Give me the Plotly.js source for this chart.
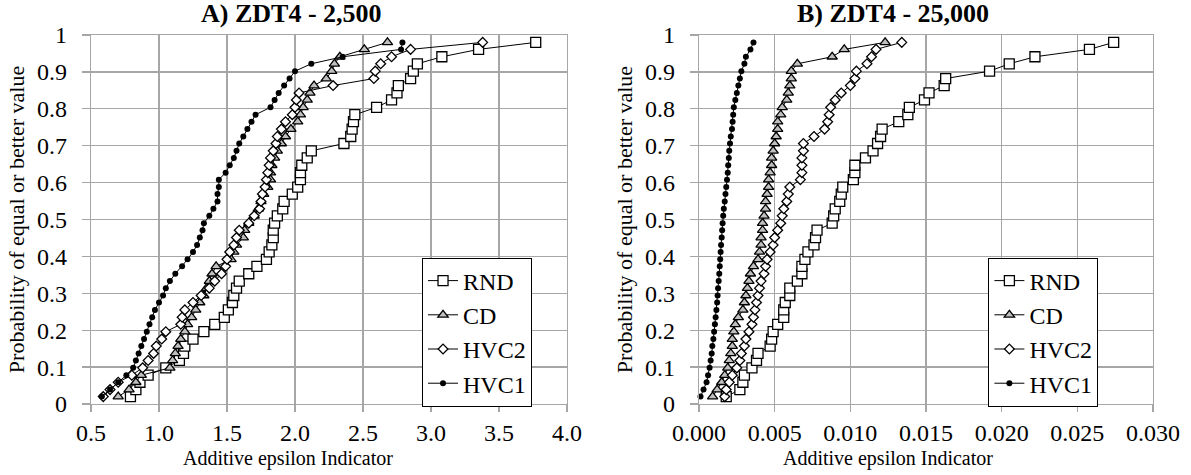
<!DOCTYPE html>
<html><head><meta charset="utf-8">
<script src="https://cdn.plot.ly/plotly-3.0.1.min.js"></script>
<style>html,body{margin:0;padding:0;background:#fff}#chart{width:1191px;height:475px}</style>
</head><body><div id="chart"></div>
<script>
// cumulative probability (i/51) for the 50 sorted runs
const probability = [0.020,0.039,0.059,0.078,0.098,0.118,0.137,0.157,0.176,0.196,
  0.216,0.235,0.255,0.275,0.294,0.314,0.333,0.353,0.373,0.392,
  0.412,0.431,0.451,0.471,0.490,0.510,0.529,0.549,0.569,0.588,
  0.608,0.627,0.647,0.667,0.686,0.706,0.725,0.745,0.765,0.784,
  0.804,0.824,0.843,0.863,0.882,0.902,0.922,0.941,0.961,0.980];

const seriesNames = ['RND','CD','HVC2','HVC1'];

// A) ZDT4 - 2,500 evaluations
const rnd_2500 = [0.79,0.83,0.86,0.92,1.05,1.15,1.18,1.19,1.25,1.33,
  1.41,1.48,1.51,1.54,1.55,1.57,1.59,1.66,1.72,1.79,
  1.81,1.83,1.84,1.84,1.85,1.87,1.91,1.92,1.98,2.02,
  2.04,2.04,2.05,2.09,2.12,2.36,2.41,2.42,2.43,2.44,
  2.60,2.71,2.75,2.76,2.85,2.87,2.90,3.08,3.35,3.77];
const cd_2500 = [0.70,0.78,0.83,0.87,1.08,1.10,1.12,1.14,1.16,1.19,
  1.21,1.24,1.27,1.30,1.33,1.35,1.37,1.39,1.42,1.53,
  1.55,1.57,1.62,1.63,1.66,1.70,1.73,1.75,1.77,1.80,
  1.82,1.82,1.83,1.85,1.87,1.90,1.93,1.97,2.02,2.04,
  2.06,2.09,2.11,2.14,2.23,2.27,2.29,2.33,2.51,2.68];
const hvc2_2500 = [0.59,0.64,0.70,0.80,0.88,0.92,0.96,0.98,1.02,1.05,
  1.16,1.17,1.19,1.25,1.31,1.37,1.41,1.46,1.49,1.50,
  1.52,1.55,1.57,1.59,1.66,1.70,1.74,1.75,1.76,1.78,
  1.79,1.80,1.81,1.82,1.84,1.86,1.87,1.90,1.93,1.98,
  2.00,2.01,2.03,2.28,2.58,2.59,2.63,2.71,2.85,3.38];
const hvc1_2500 = [0.58,0.64,0.70,0.76,0.81,0.83,0.85,0.87,0.89,0.91,
  0.93,0.95,0.97,1.00,1.03,1.05,1.08,1.12,1.17,1.21,
  1.25,1.28,1.30,1.32,1.33,1.37,1.40,1.43,1.43,1.44,
  1.44,1.49,1.52,1.55,1.57,1.59,1.62,1.65,1.68,1.71,
  1.82,1.85,1.88,1.92,1.96,2.00,2.12,2.35,2.78,2.79];

// B) ZDT4 - 25,000 evaluations
const rnd_25000 = [0.0018,0.0027,0.0029,0.0030,0.0035,0.0038,0.0039,0.0047,0.0048,0.0049,
  0.0052,0.0056,0.0056,0.0057,0.0060,0.0060,0.0065,0.0068,0.0068,0.0070,
  0.0072,0.0076,0.0077,0.0078,0.0088,0.0089,0.0090,0.0093,0.0094,0.0095,
  0.0102,0.0103,0.0103,0.0110,0.0115,0.0118,0.0120,0.0121,0.0132,0.0138,
  0.0139,0.0149,0.0152,0.0162,0.0163,0.0192,0.0205,0.0222,0.0258,0.0274];
const cd_25000 = [0.0009,0.0012,0.0015,0.0017,0.0019,0.0020,0.0021,0.0022,0.0022,0.0023,
  0.0024,0.0026,0.0029,0.0030,0.0031,0.0032,0.0033,0.0034,0.0036,0.0039,
  0.0040,0.0041,0.0041,0.0042,0.0042,0.0043,0.0044,0.0044,0.0045,0.0046,
  0.0046,0.0047,0.0048,0.0048,0.0049,0.0050,0.0051,0.0052,0.0052,0.0054,
  0.0055,0.0058,0.0059,0.0060,0.0061,0.0061,0.0065,0.0088,0.0096,0.0123];
const hvc2_25000 = [0.0017,0.0018,0.0020,0.0022,0.0025,0.0027,0.0028,0.0030,0.0031,0.0033,
  0.0035,0.0036,0.0037,0.0038,0.0039,0.0040,0.0041,0.0043,0.0044,0.0045,
  0.0047,0.0049,0.0050,0.0052,0.0054,0.0055,0.0056,0.0058,0.0059,0.0060,
  0.0067,0.0068,0.0068,0.0068,0.0069,0.0069,0.0076,0.0083,0.0085,0.0086,
  0.0087,0.0090,0.0094,0.0100,0.0103,0.0104,0.0111,0.0114,0.0117,0.0134];
const hvc1_25000 = [0.0001,0.0003,0.0005,0.0006,0.0007,0.00077,0.00084,0.00088,0.00095,0.0010,
  0.00105,0.0011,0.00115,0.0012,0.00123,0.00126,0.0013,0.00134,0.00137,0.0014,
  0.00143,0.00146,0.0015,0.00153,0.00156,0.0016,0.00164,0.0017,0.00175,0.0018,
  0.00185,0.0019,0.00193,0.00197,0.0020,0.00205,0.0021,0.00218,0.00222,0.00226,
  0.0023,0.0024,0.0025,0.0026,0.0027,0.0028,0.0030,0.0031,0.0034,0.0036];

const xTitle = 'Additive epsilon Indicator';
const yTitle = 'Probability of equal or better value';
const chartTitles = ['<b>A) ZDT4 - 2,500</b>', '<b>B) ZDT4 - 25,000</b>'];

const FONT = '"Liberation Serif"';
const GRID = '#a6a6a6';
const markerStyles = [
  {symbol:'square', size:10, color:'#ffffff', line:{color:'#000', width:1.3}},
  {symbol:'triangle-up', size:9, color:'#bfbfbf', line:{color:'#000', width:1.3}},
  {symbol:'diamond', size:7.5, color:'#ffffff', line:{color:'#000', width:1.3}},
  {symbol:'circle', size:6, color:'#000000', line:{color:'#000', width:0}}
];

const panelA = [rnd_2500, cd_2500, hvc2_2500, hvc1_2500];
const panelB = [rnd_25000, cd_25000, hvc2_25000, hvc1_25000];

const traces = [];
panelA.forEach((xs, k) => traces.push({
  type:'scatter', mode:'lines+markers', name:seriesNames[k], x:xs, y:probability,
  xaxis:'x', yaxis:'y', legend:'legend',
  line:{color:'#000', width:1}, marker:markerStyles[k], cliponaxis:false
}));
panelB.forEach((xs, k) => traces.push({
  type:'scatter', mode:'lines+markers', name:seriesNames[k], x:xs, y:probability,
  xaxis:'x2', yaxis:'y2', legend:'legend2',
  line:{color:'#000', width:1}, marker:markerStyles[k], cliponaxis:false
}));

function xAxis(domain, range, dtick, fmt) {
  return {domain:domain, range:range, dtick:dtick, tick0:range[0], tickformat:fmt,
    showgrid:true, gridcolor:GRID, gridwidth:1.3, zeroline:false,
    showline:true, linecolor:GRID, linewidth:1.3, mirror:true,
    ticks:'outside', ticklen:7, tickcolor:GRID, tickwidth:1.3,
    tickfont:{family:FONT, size:24, color:'#000'}};
}
function yAxis(anchor) {
  return {domain:[0,1], range:[0,1], dtick:0.1, tick0:0, anchor:anchor,
    showgrid:true, gridcolor:GRID, gridwidth:1.3, zeroline:false,
    showline:true, linecolor:GRID, linewidth:1.3, mirror:true,
    ticks:'outside', ticklen:8, tickcolor:GRID, tickwidth:1.3, ticklabelstandoff:10,
    tickfont:{family:FONT, size:24, color:'#000'},
    title:{text:yTitle, font:{family:FONT, size:22, color:'#000'}, standoff:6}};
}
function legendBox(x) {
  return {x:x, y:0.397, xanchor:'left', yanchor:'top', bgcolor:'#fff',
    bordercolor:'#000', borderwidth:1, font:{family:FONT, size:24, color:'#000'},
    tracegroupgap:0};
}
function textNote(text, x, y, size) {
  return {text:text, xref:'paper', yref:'paper', x:x, y:y, xanchor:'center', yanchor:'middle',
    showarrow:false, font:{family:FONT, size:size, color:'#000'}};
}

const layout = {
  width:1191, height:475, paper_bgcolor:'#fff', plot_bgcolor:'#fff',
  margin:{l:91, r:38, t:35, b:71},
  font:{family:FONT, color:'#000'},
  xaxis:Object.assign(xAxis([0,0.4482],[0.5,4],0.5,'.1f'), {anchor:'y'}),
  yaxis:yAxis('x'),
  xaxis2:Object.assign(xAxis([0.5725,1],[0,0.03],0.005,'.3f'), {anchor:'y2'}),
  yaxis2:yAxis('x2'),
  legend:legendBox(0.3117),
  legend2:legendBox(0.845),
  annotations:[
    textNote(chartTitles[0], 0.189, 1.057, 26),
    textNote(chartTitles[1], 0.755, 1.057, 26),
    textNote(xTitle, 0.1855, -0.148, 20),
    textNote(xTitle, 0.7505, -0.148, 20)
  ]
};

Plotly.newPlot('chart', traces, layout, {displayModeBar:false, staticPlot:true});
</script></body></html>
